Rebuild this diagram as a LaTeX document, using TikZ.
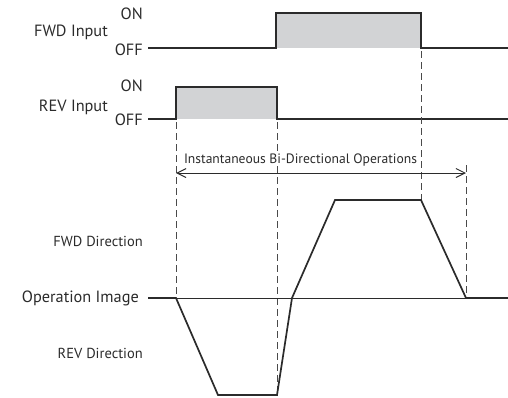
\documentclass[tikz,border=0pt]{standalone}
\usepackage{fontspec}
\setmainfont{PT Sans}
\usetikzlibrary{arrows.meta}
\definecolor{sigc}{HTML}{2B2B2B}
\definecolor{dashc}{HTML}{4A4A4A}
\definecolor{fillc}{HTML}{D2D3D5}
\begin{document}
\begin{tikzpicture}[x=1pt,y=-1pt,
  sig/.style={draw=sigc, line width=1.3pt, line join=miter},
  prof/.style={draw=sigc, line width=1.7pt, line join=miter},
  base/.style={draw=sigc, line width=1pt},
  vdash/.style={draw=dashc, line width=1pt, dash pattern=on 7pt off 4pt},
  big/.style={inner sep=0pt, font=\fontsize{16.3}{18}\selectfont, text=sigc},
  small/.style={inner sep=0pt, font=\fontsize{14.5}{16}\selectfont, text=sigc},
  mid/.style={inner sep=0pt, font=\fontsize{13.6}{15}\selectfont, text=sigc, fill=white},
  span/.style={draw=sigc, line width=1pt, {Straight Barb[length=9pt,width=9pt]}-{Straight Barb[length=9pt,width=9pt]}}]
\useasboundingbox (0,0) rectangle (508,397);
% FWD input
\fill[fillc] (276,13) rectangle (421,48);
\coordinate (f0) at (148,48); \coordinate (f1) at (276,48); \coordinate (f2) at (276,13);
\coordinate (f3) at (421,13); \coordinate (f4) at (421,48); \coordinate (f5) at (508,48);
\draw[sig] (f0) -- (f1) -- (f2) -- (f3) -- (f4) -- (f5);
% REV input
\fill[fillc] (176,87) rectangle (277,119);
\coordinate (r0) at (148,119); \coordinate (r1) at (176,119); \coordinate (r2) at (176,87);
\coordinate (r3) at (277,87); \coordinate (r4) at (277,119); \coordinate (r5) at (508,119);
\draw[sig] (r0) -- (r1) -- (r2) -- (r3) -- (r4) -- (r5);
% labels
\node[big, anchor=east] (fon) at (143,14) {ON};
\node[big, anchor=east] (fin) at (108,32) {FWD Input};
\node[big, anchor=east] (foff) at (143,50) {OFF};
\node[big, anchor=east] (ron) at (143,86) {ON};
\node[big, anchor=east] (rin) at (108,107) {REV Input};
\node[big, anchor=east] (roff) at (143,120) {OFF};
\node[big, anchor=east] (opi) at (139,298) {Operation Image};
\node[small, anchor=east] (fdir) at (143,241) {FWD Direction};
\node[small, anchor=east] (rdir) at (143,353) {REV Direction};
% dashed guide lines
\coordinate (d1a) at (176,122); \coordinate (d1b) at (176,298);
\coordinate (d2a) at (277,122); \coordinate (d2b) at (277,395);
\coordinate (d3a) at (421,51); \coordinate (d3b) at (421,200);
\coordinate (d4a) at (466,165); \coordinate (d4b) at (466,298);
\draw[vdash] (d1a) -- (d1b);
\draw[vdash] (d2a) -- (d2b);
\draw[vdash] (d3a) -- (d3b);
\draw[vdash] (d4a) -- (d4b);
% span arrow
\coordinate (aL) at (176,173); \coordinate (aR) at (466,173);
\draw[span] (aL) -- (aR);
\node[mid] (inst) at (300.5,160) {Instantaneous Bi-Directional Operations};
% operation image
\coordinate (o0) at (148,298); \coordinate (o1) at (508,298);
\draw[base] (o0) -- (o1);
\coordinate (p0) at (176,298); \coordinate (p1) at (218,395); \coordinate (p2) at (277,395);
\coordinate (p3) at (292,298); \coordinate (p4) at (335,200); \coordinate (p5) at (421,200);
\coordinate (p6) at (466,298); \coordinate (p7) at (508,298);
\draw[prof] (o0) -- (p0) -- (p1) -- (p2) -- (p3) -- (p4) -- (p5) -- (p6) -- (p7);
\end{tikzpicture}
\end{document}
